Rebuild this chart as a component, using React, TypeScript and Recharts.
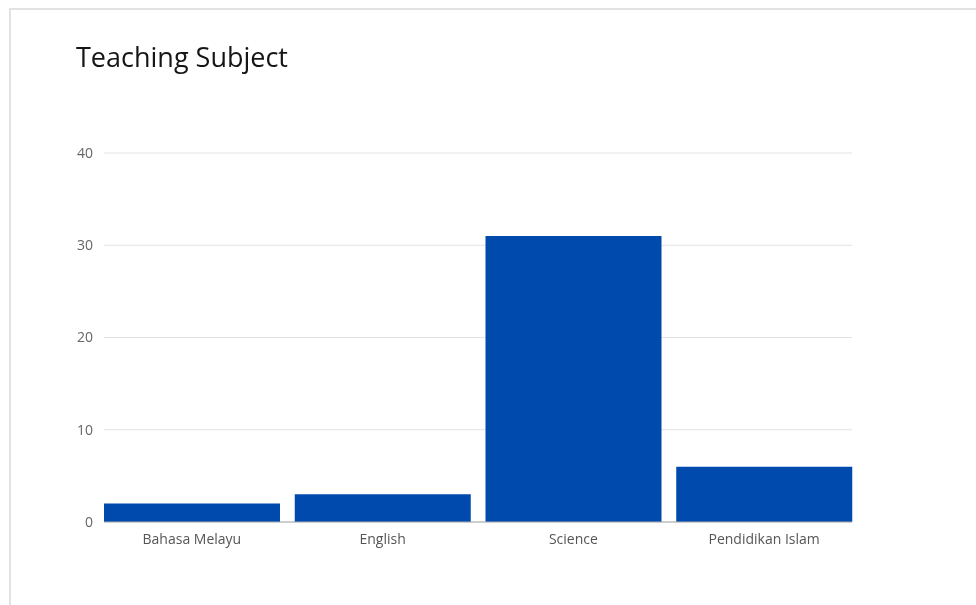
import React from "react";
import { BarChart, Bar, XAxis, YAxis, CartesianGrid } from "recharts";

const subjects = ["Bahasa Melayu", "English", "Science", "Pendidikan Islam"];
const counts = [2, 3, 31, 6];
const yTicks = [0, 10, 20, 30, 40];

const data = subjects.map((s, i) => ({ subject: s, count: counts[i] }));

export default function App() {
  return (
    <div style={{ position: "relative", width: 960, height: 589 }}>
      <div
        style={{
          position: "fixed",
          left: 9,
          top: 8,
          right: -20,
          bottom: -20,
          borderTop: "2px solid #e2e2e2",
          borderLeft: "2px solid #e2e2e2",
          pointerEvents: "none",
        }}
      />
      <div
        style={{
          position: "absolute",
          left: 68,
          top: 32,
          fontFamily: "'Open Sans', sans-serif",
          fontSize: 27,
          lineHeight: "34px",
          color: "#151515",
        }}
      >
        Teaching Subject
      </div>
      <div style={{ position: "absolute", left: 0, top: 0 }}>
        <BarChart
          width={960}
          height={589}
          data={data}
          margin={{ top: 145, right: 116, bottom: 45, left: 0 }}
          barCategoryGap={7.5}
        >
          <CartesianGrid vertical={false} stroke="#e3e3e3" />
          <XAxis
            dataKey="subject"
            height={30}
            padding={{ left: -7.5, right: -7.5 }}
            tickLine={false}
            tickSize={0}
            tickMargin={12}
            axisLine={{ stroke: "#aaa" }}
            tick={{ fill: "#555", fontSize: 14, fontFamily: "'Open Sans', sans-serif" }}
          />
          <YAxis
            width={96}
            domain={[0, 40]}
            ticks={yTicks}
            axisLine={false}
            tickLine={false}
            tickSize={0}
            tickMargin={11}
            tick={{ fill: "#666", fontSize: 14, fontFamily: "'Open Sans', sans-serif" }}
          />
          <Bar dataKey="count" fill="#004aad" isAnimationActive={false} />
        </BarChart>
      </div>
    </div>
  );
}
